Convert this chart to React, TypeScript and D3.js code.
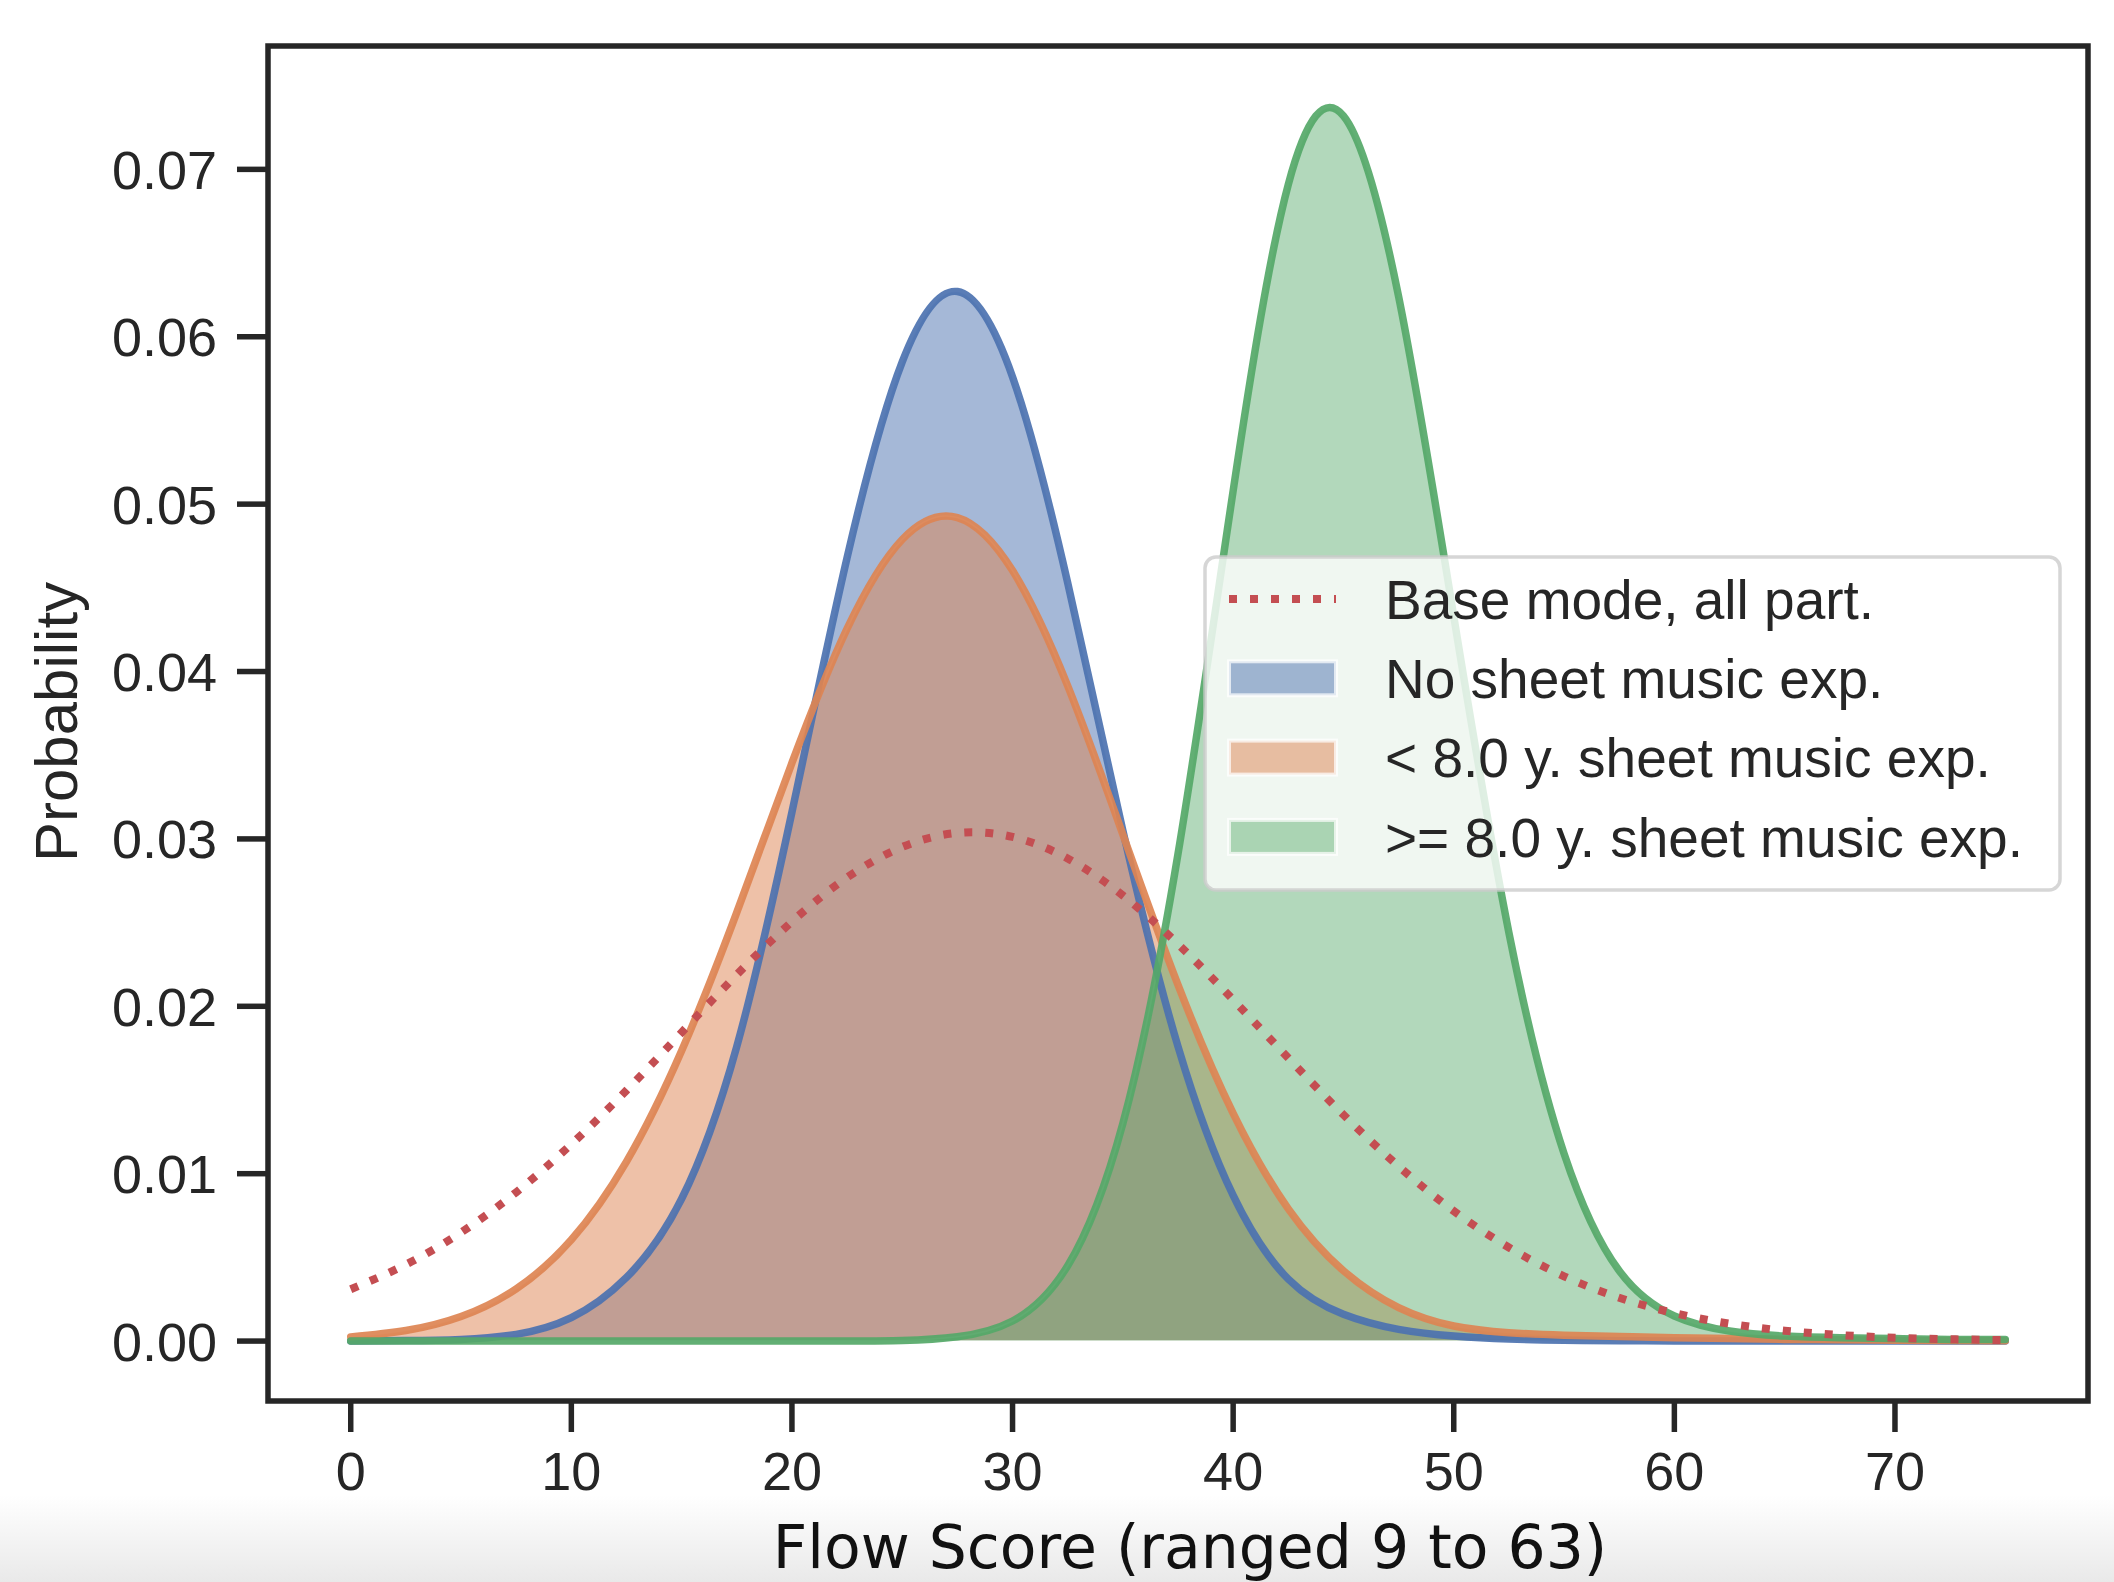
import * as d3 from "d3";

// Flow score grid (x) and the four density curves
const flowScore = [
  0, 2.5, 5, 7.5, 10, 12.5, 15, 17.5, 20, 22.5, 25, 27.5, 30, 32.5, 35, 37.5,
  40, 42.5, 45, 47.5, 50, 52.5, 55, 57.5, 60, 62.5, 65, 67.5, 70, 72.5, 75,
];

const baseMode = [
  0.0031, 0.00457, 0.00649, 0.00889, 0.01176, 0.01498, 0.01844, 0.02189,
  0.02506, 0.0277, 0.02952, 0.03036, 0.03012, 0.02883, 0.02662, 0.02372,
  0.02039, 0.01691, 0.01352, 0.01044, 0.00777, 0.00559, 0.00387, 0.00259,
  0.00167, 0.00104, 0.00062, 0.00036, 0.0002, 0.00011, 0.00006,
];

const noSheetExp = [
  0.00001, 0.00003, 0.0001, 0.0004, 0.0014, 0.0038, 0.0085, 0.0176, 0.0316,
  0.0468, 0.0585, 0.0627, 0.0576, 0.0453, 0.0305, 0.0176, 0.0087, 0.0037,
  0.0016, 0.0007, 0.0003, 0.00012, 0.00005, 0.00002, 0.00001, 0, 0, 0, 0, 0, 0,
];

const under8Exp = [
  0.00025, 0.00063, 0.00147, 0.00312, 0.00605, 0.01072, 0.01734, 0.02561,
  0.03454, 0.04256, 0.04789, 0.0492, 0.04603, 0.03914, 0.03027, 0.02128,
  0.0136, 0.0079, 0.0042, 0.002, 0.0009, 0.0005, 0.00035, 0.00027, 0.0002,
  0.00015, 0.0001, 0.00008, 0.00005, 0.00003, 0.00002,
];

const over8Exp = [
  0, 0, 0, 0, 0, 0, 0, 0, 0, 0.00001, 0.00004, 0.00026, 0.0012, 0.0045, 0.013,
  0.0291, 0.0508, 0.0691, 0.0732, 0.0624, 0.0433, 0.0244, 0.0112, 0.0042,
  0.0015, 0.0006, 0.0003, 0.0002, 0.00015, 0.0001, 0.0001,
];

const xTicks = [0, 10, 20, 30, 40, 50, 60, 70];
const yTicks = [0, 0.01, 0.02, 0.03, 0.04, 0.05, 0.06, 0.07];

const legendLabels = [
  "Base mode, all part.",
  "No sheet music exp.",
  "< 8.0 y. sheet music exp.",
  ">= 8.0 y. sheet music exp.",
];

const W = 2114;
const H = 1582;
const FRAME = { left: 268, right: 2088, top: 46, bottom: 1401 };
const INK = "#262626";
const SANS = "'Liberation Sans', Arial, Helvetica, sans-serif";

const BLUE = "#4C72B0";
const ORANGE = "#DD8452";
const GREEN = "#55A868";
const RED = "#C44E52";

export default function App() {
  const x = d3
    .scaleLinear()
    .domain([-3.75, 78.75])
    .range([FRAME.left, FRAME.right]);
  const y = d3
    .scaleLinear()
    .domain([-0.00358, 0.07737])
    .range([FRAME.bottom, FRAME.top]);

  const curve = d3.curveNatural;
  const line = d3
    .line<number>()
    .x((_, i) => x(flowScore[i]))
    .y((d) => y(d))
    .curve(curve);
  const area = d3
    .area<number>()
    .x((_, i) => x(flowScore[i]))
    .y0(y(0))
    .y1((d) => y(d))
    .curve(curve);

  const filled = [
    { values: noSheetExp, color: BLUE, alpha: 0.5 },
    { values: under8Exp, color: ORANGE, alpha: 0.5 },
    { values: over8Exp, color: GREEN, alpha: 0.45 },
  ];

  const fmt = d3.format(".2f");

  // legend layout
  const lg = { x: 1205, y: 557, w: 855, h: 333 };
  const rowY = (i: number) => 599 + i * 79.3;
  const handleX0 = 1229;
  const handleX1 = 1336;
  const legendColors = [RED, BLUE, ORANGE, GREEN];

  return (
    <svg
      width={W}
      height={H}
      viewBox={`0 0 ${W} ${H}`}
      style={{ position: "absolute", left: 0, top: 0, display: "block" }}
    >
      <defs>
        <clipPath id="plotClip">
          <rect
            x={FRAME.left}
            y={FRAME.top}
            width={FRAME.right - FRAME.left}
            height={FRAME.bottom - FRAME.top}
          />
        </clipPath>
        <linearGradient id="shade" x1="0" y1="0" x2="0" y2="1">
          <stop offset="0%" stopColor="#ffffff" />
          <stop offset="100%" stopColor="#e9e9e9" />
        </linearGradient>
      </defs>

      <rect width={W} height={H} fill="#ffffff" />
      <rect x={0} y={1495} width={W} height={H - 1495} fill="url(#shade)" />

      {/* areas, then lines */}
      <g clipPath="url(#plotClip)">
        {filled.map((s, i) => (
          <path
            key={`a${i}`}
            d={area(s.values) ?? ""}
            fill={s.color}
            fillOpacity={s.alpha}
            stroke="#ffffff"
            strokeOpacity={0.6}
            strokeWidth={1.5}
          />
        ))}
        {filled.map((s, i) => (
          <path
            key={`l${i}`}
            d={line(s.values) ?? ""}
            fill="none"
            stroke={s.color}
            strokeOpacity={0.92}
            strokeWidth={7.5}
            strokeLinecap="round"
          />
        ))}
        <path
          d={line(baseMode) ?? ""}
          fill="none"
          stroke={RED}
          strokeWidth={8}
          strokeDasharray="8 13"
        />
      </g>

      {/* frame */}
      <rect
        x={FRAME.left}
        y={FRAME.top}
        width={FRAME.right - FRAME.left}
        height={FRAME.bottom - FRAME.top}
        fill="none"
        stroke={INK}
        strokeWidth={5.5}
      />

      {/* y axis */}
      {yTicks.map((t) => (
        <g key={`y${t}`}>
          <line
            x1={FRAME.left - 31}
            x2={FRAME.left}
            y1={y(t)}
            y2={y(t)}
            stroke={INK}
            strokeWidth={5.5}
          />
          <text
            x={217}
            y={y(t)}
            dy="0.36em"
            textAnchor="end"
            fontFamily={SANS}
            fontSize={54}
            fill={INK}
          >
            {fmt(t)}
          </text>
        </g>
      ))}

      {/* x axis */}
      {xTicks.map((t) => (
        <g key={`x${t}`}>
          <line
            x1={x(t)}
            x2={x(t)}
            y1={FRAME.bottom}
            y2={FRAME.bottom + 31}
            stroke={INK}
            strokeWidth={5.5}
          />
          <text
            x={x(t)}
            y={1490}
            textAnchor="middle"
            fontFamily={SANS}
            fontSize={54}
            fill={INK}
          >
            {t}
          </text>
        </g>
      ))}

      <text
        transform="translate(77,722) rotate(-90)"
        textAnchor="middle"
        fontFamily={SANS}
        fontSize={60}
        fill={INK}
      >
        Probability
      </text>
      <text
        x={1190}
        y={1568}
        textAnchor="middle"
        fontFamily="'DejaVu Sans', sans-serif"
        fontSize={60}
        fill="#111111"
      >
        Flow Score (ranged 9 to 63)
      </text>

      {/* legend */}
      <rect
        x={lg.x}
        y={lg.y}
        width={lg.w}
        height={lg.h}
        rx={11}
        fill="#ffffff"
        fillOpacity={0.8}
        stroke="#cccccc"
        strokeOpacity={0.8}
        strokeWidth={3.5}
      />
      {legendLabels.map((label, i) => (
        <g key={label}>
          {i === 0 ? (
            <line
              x1={handleX0}
              x2={handleX1}
              y1={rowY(i)}
              y2={rowY(i)}
              stroke={legendColors[i]}
              strokeWidth={8}
              strokeDasharray="8 13"
            />
          ) : (
            <rect
              x={handleX0}
              y={rowY(i) - 17}
              width={handleX1 - handleX0}
              height={34}
              fill={legendColors[i]}
              fillOpacity={filled[i - 1].alpha}
              stroke="#ffffff"
              strokeOpacity={0.7}
              strokeWidth={4}
            />
          )}
          <text
            x={1385}
            y={rowY(i)}
            dy="0.36em"
            fontFamily={SANS}
            fontSize={55}
            fill={INK}
          >
            {label}
          </text>
        </g>
      ))}
    </svg>
  );
}
